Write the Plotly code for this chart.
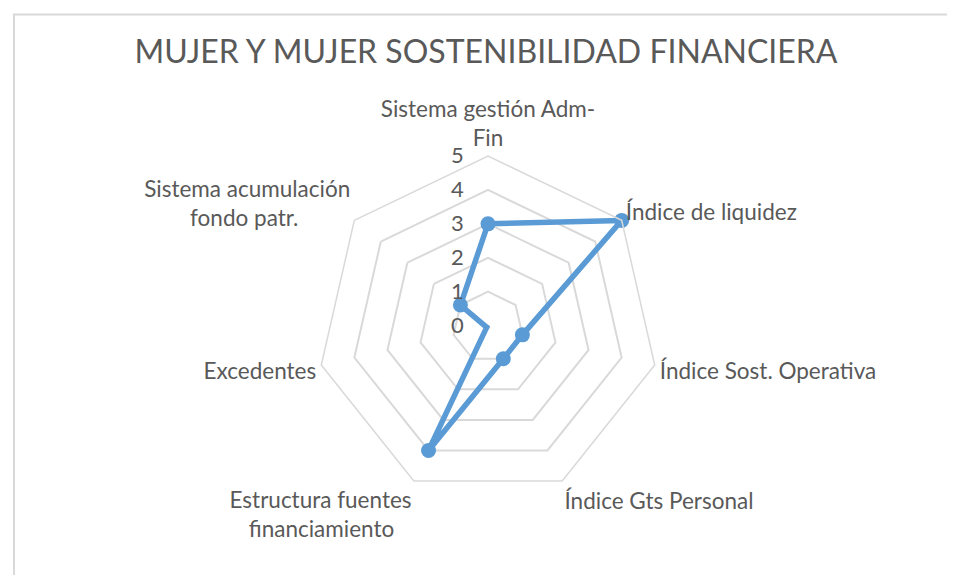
import plotly.graph_objects as go

categorias = [
    "Sistema gestión Adm-<br>Fin",
    "Índice de liquidez",
    "Índice Sost. Operativa",
    "Índice Gts Personal",
    "Estructura fuentes<br>financiamiento" + "&nbsp;" * 3,
    "Excedentes",
    "Sistema acumulación<br>fondo patr." + "&nbsp;" * 9,
]
valores = [3, 5, 1, 1, 4, 0, 1]
ticks_radiales = [0, 1, 2, 3, 4, 5]

AZUL = "#5b9bd5"
GRIS_TXT = "#595959"
GRIS_GRID = "#d9d9d9"
FUENTE = "Lato, Open Sans, sans-serif"

fig = go.Figure()
fig.add_trace(go.Scatterpolar(
    r=valores + valores[:1],
    theta=categorias + categorias[:1],
    mode="lines",
    line=dict(color=AZUL, width=5.5),
    showlegend=False,
    hoverinfo="skip",
))
# marcadores en traza aparte para que el punto en 0 (centro) también se vea
fig.add_trace(go.Scatterpolar(
    r=valores,
    theta=categorias,
    mode="markers",
    marker=dict(color=AZUL, size=15),
    cliponaxis=False,
    showlegend=False,
    hoverinfo="skip",
))

W, H = 955, 575
# plotly recentra el polígono; se compensa el desplazamiento observado
cx, cy, R = 486 - 6, 328 - 9, 171

fig.update_layout(
    width=W, height=H,
    margin=dict(l=0, r=0, t=0, b=0),
    paper_bgcolor="white",
    font=dict(family=FUENTE, color=GRIS_TXT, size=22),
    title=dict(
        text="MUJER Y MUJER SOSTENIBILIDAD FINANCIERA",
        x=478 / W, xanchor="center",
        y=1 - 44 / H, yanchor="middle",
        font=dict(family=FUENTE, size=32, color=GRIS_TXT),
    ),
    polar=dict(
        domain=dict(x=[(cx - R) / W, (cx + R) / W],
                    y=[(H - cy - R) / H, (H - cy + R) / H]),
        bgcolor="white",
        gridshape="linear",
        radialaxis=dict(
            range=[-0.04, 5],
            tickvals=ticks_radiales,
            angle=90,
            tickangle=90,
            side="counterclockwise",
            showline=False,
            showgrid=True,
            gridcolor=GRIS_GRID,
            gridwidth=1.5,
            ticks="outside",
            ticklen=16,
            tickcolor="rgba(0,0,0,0)",
            tickfont=dict(size=22, color=GRIS_TXT),
        ),
        angularaxis=dict(
            rotation=90,
            direction="clockwise",
            showgrid=False,
            showline=True,
            linecolor=GRIS_GRID,
            linewidth=1.5,
            ticks="",
            tickfont=dict(size=22.5, color=GRIS_TXT),
        ),
    ),
    shapes=[dict(
        type="rect", xref="paper", yref="paper",
        x0=6 / W, x1=1.2, y0=-0.2, y1=1 - 6.5 / H,
        line=dict(color=GRIS_GRID, width=2),
        fillcolor="rgba(0,0,0,0)",
    )],
)

fig.write_html("out.html")
